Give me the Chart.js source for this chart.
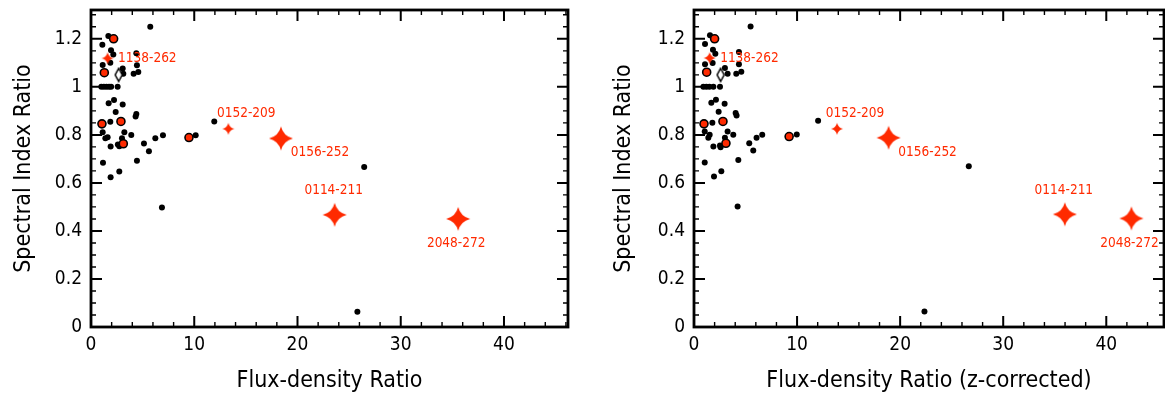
<!DOCTYPE html>
<html>
<head>
<title>Spectral Index Ratio vs Flux-density Ratio</title>
<script src="https://cdn.jsdelivr.net/npm/chart.js"></script>
<style>
  body { margin: 0; background: #fff; }
  .panel { position: absolute; top: 0; }
</style>
</head>
<body>
<div class="panel" style="left:0px"><canvas id="leftChart" width="580" height="397"></canvas></div>
<div class="panel" style="left:600px"><canvas id="rightChart" width="565" height="397"></canvas></div>

<script>
// tick labels
const xTicks = [0, 10, 20, 30, 40];
const yTicks = [0, 0.2, 0.4, 0.6, 0.8, 1, 1.2];

// named sources (red stars)
const starNames = ['1138-262', '0152-209', '0156-252', '0114-211', '2048-272'];
const starBig = [false, false, true, true, true];

// left panel: observed flux-density ratio
const leftStarX = [1.61, 13.3, 18.4, 23.6, 35.56];
const leftStarY = [1.119, 0.825, 0.785, 0.467, 0.45];
const leftRedX = [2.19, 1.29, 2.90, 1.06, 3.13, 9.49];
const leftRedY = [1.20, 1.059, 0.856, 0.846, 0.763, 0.789];
const leftDiamondX = [2.68];
const leftDiamondY = [1.05];
const leftDotX = [5.74, 1.68, 1.10, 1.94, 2.16, 1.87, 1.13, 4.39, 4.45, 4.58, 4.13, 3.07, 3.13,
  1.0, 1.25, 1.5, 1.75, 1.95, 2.58, 2.23, 1.71, 3.07, 2.39, 4.39, 4.32, 1.87, 11.94,
  1.13, 1.61, 1.39, 3.23, 3.0, 3.90, 2.74, 2.6, 1.90, 5.13, 5.61, 6.23, 6.97, 10.14,
  4.45, 1.16, 2.74, 1.90, 6.87, 26.46, 25.8];
const leftDotY = [1.250, 1.212, 1.175, 1.152, 1.135, 1.10, 1.091, 1.14, 1.09, 1.062, 1.055, 1.076, 1.055,
  1.0, 1.0, 1.0, 1.0, 1.0, 1.0, 0.945, 0.932, 0.927, 0.895, 0.887, 0.877, 0.855, 0.856,
  0.811, 0.79, 0.786, 0.811, 0.786, 0.80, 0.753, 0.76, 0.752, 0.764, 0.732, 0.786, 0.798, 0.798,
  0.692, 0.684, 0.647, 0.624, 0.498, 0.666, 0.063];

// right panel: z-corrected flux-density ratio
const rightStarX = [1.52, 13.88, 18.88, 35.98, 42.44];
const rightStarY = [1.12, 0.825, 0.788, 0.469, 0.452];
const rightRedX = [2.0, 1.23, 2.81, 0.97, 3.1, 9.23];
const rightRedY = [1.20, 1.061, 0.856, 0.846, 0.765, 0.793];
const rightDiamondX = [2.58];
const rightDiamondY = [1.05];
const rightDotX = [5.49, 1.55, 1.07, 1.84, 2.07, 4.36, 4.36, 1.07, 1.81, 3.0, 3.26, 4.1, 4.59,
  0.91, 1.2, 1.5, 1.88, 2.52, 2.13, 1.68, 2.97, 2.39, 4.04, 4.13, 1.78, 12.04,
  1.04, 1.52, 1.39, 3.26, 3.81, 3.0, 1.88, 2.52, 2.58, 5.36, 5.75, 6.07, 6.62, 9.97,
  4.3, 1.04, 2.65, 1.94, 4.23, 26.66, 22.36];
const rightDotY = [1.251, 1.215, 1.178, 1.155, 1.138, 1.145, 1.094, 1.094, 1.099, 1.079, 1.055, 1.055, 1.063,
  1.0, 1.0, 1.0, 1.0, 1.0, 0.946, 0.934, 0.93, 0.896, 0.891, 0.881, 0.85, 0.859,
  0.814, 0.801, 0.788, 0.814, 0.801, 0.788, 0.752, 0.756, 0.749, 0.765, 0.735, 0.788, 0.801, 0.802,
  0.695, 0.685, 0.649, 0.627, 0.502, 0.669, 0.065];

const RED = '#ff2a00';
const FONT = "'DejaVu Sans Condensed', 'DejaVu Sans', sans-serif";

// label offsets in pixels from the star centre
const labelOffsets = [[10.5, 0, 'left'], [18, -15.6, 'center'], [39, 14.5, 'center'], [-1, -24, 'center'], [-2, 24.8, 'center']];

function toPoints(xs, ys) {
    return xs.map((x, i) => ({ x: x, y: ys[i] }));
}

// 4 pointed concave star
function makeStar(r) {
    const c = document.createElement('canvas');
    c.width = c.height = 2 * r + 2;
    const g = c.getContext('2d');
    const m = r + 1, k = r * 0.2;
    g.fillStyle = RED;
    g.beginPath();
    g.moveTo(m, m - r);
    g.quadraticCurveTo(m + k, m - k, m + r, m);
    g.quadraticCurveTo(m + k, m + k, m, m + r);
    g.quadraticCurveTo(m - k, m + k, m - r, m);
    g.quadraticCurveTo(m - k, m - k, m, m - r);
    g.fill();
    return c;
}

function makeDiamond(w, h) {
    const c = document.createElement('canvas');
    c.width = w + 3; c.height = h + 3;
    const g = c.getContext('2d');
    const cx = c.width / 2, cy = c.height / 2;
    g.fillStyle = '#fff';
    g.strokeStyle = '#000';
    g.lineWidth = 1.5;
    g.beginPath();
    g.moveTo(cx, cy - h / 2);
    g.lineTo(cx + w / 2, cy);
    g.lineTo(cx, cy + h / 2);
    g.lineTo(cx - w / 2, cy);
    g.closePath();
    g.fill();
    g.stroke();
    return c;
}

const bigStar = makeStar(12);
const smallStar = makeStar(6);
const diamond = makeDiamond(7, 13);

// frame with inward major/minor ticks on all four sides + star labels
const framePlugin = {
    id: 'frame',
    afterDatasetsDraw(chart) {
        const ctx = chart.ctx;
        const a = chart.chartArea;
        const xs = chart.scales.x, ys = chart.scales.y;
        ctx.save();
        ctx.strokeStyle = '#000';
        ctx.lineCap = 'butt';

        function tick(px, len, width, horizontal) {
            ctx.lineWidth = width;
            ctx.beginPath();
            if (horizontal) {
                ctx.moveTo(px, a.bottom); ctx.lineTo(px, a.bottom - len);
                ctx.moveTo(px, a.top); ctx.lineTo(px, a.top + len);
            } else {
                ctx.moveTo(a.left, px); ctx.lineTo(a.left + len, px);
                ctx.moveTo(a.right, px); ctx.lineTo(a.right - len, px);
            }
            ctx.stroke();
        }
        for (let v = 0; v <= xs.max + 1e-9; v += 2) {
            const major = Math.abs(v % 10) < 1e-9;
            tick(xs.getPixelForValue(v), major ? 11 : 5, major ? 2 : 1.4, true);
        }
        for (let i = 0; i * 0.05 <= ys.max + 1e-9; i++) {
            const major = i % 4 === 0;
            tick(ys.getPixelForValue(i * 0.05), major ? 11 : 5, major ? 2 : 1.4, false);
        }
        ctx.lineWidth = 2.8;
        ctx.strokeRect(a.left, a.top, a.right - a.left, a.bottom - a.top);

        // star labels
        const sx = chart.options.starX, sy = chart.options.starY;
        ctx.fillStyle = RED;
        ctx.font = '13.5px ' + FONT;
        ctx.textBaseline = 'middle';
        starNames.forEach((name, i) => {
            const o = labelOffsets[i];
            ctx.textAlign = o[2];
            ctx.fillText(name, xs.getPixelForValue(sx[i]) + o[0], ys.getPixelForValue(sy[i]) + o[1]);
        });
        ctx.restore();
    }
};

function makeChart(id, xTitle, xMax, yAxisWidth, padRight, starX, starY, redX, redY, diaX, diaY, dotX, dotY) {
    const ctx = document.getElementById(id).getContext('2d');
    return new Chart(ctx, {
        type: 'scatter',
        data: {
            datasets: [
                {
                    data: toPoints(starX, starY),
                    pointStyle: starBig.map(b => b ? bigStar : smallStar),
                    pointRadius: 12
                },
                {
                    data: toPoints(redX, redY),
                    pointStyle: 'circle',
                    pointRadius: 4,
                    backgroundColor: RED,
                    borderColor: '#000',
                    borderWidth: 1.6
                },
                {
                    data: toPoints(diaX, diaY),
                    pointStyle: diamond,
                    pointRadius: 7
                },
                {
                    data: toPoints(dotX, dotY),
                    pointStyle: 'circle',
                    pointRadius: 3,
                    backgroundColor: '#000',
                    borderWidth: 0
                }
            ]
        },
        options: {
            responsive: false,
            animation: false,
            starX: starX,
            starY: starY,
            layout: { autoPadding: false, padding: { top: 10, right: padRight, left: 0, bottom: 0 } },
            plugins: {
                legend: { display: false },
                tooltip: { enabled: false }
            },
            scales: {
                x: {
                    type: 'linear',
                    min: 0,
                    max: xMax,
                    grid: { display: false, drawTicks: false },
                    border: { display: false },
                    afterBuildTicks: s => { s.ticks = xTicks.map(v => ({ value: v })); },
                    afterFit: s => { s.height = 70; s.paddingLeft = 0; s.paddingRight = 0; },
                    ticks: {
                        padding: 7,
                        color: '#000',
                        font: { family: FONT, size: 19 },
                        maxRotation: 0,
                        callback: v => String(v)
                    },
                    title: {
                        display: true,
                        text: xTitle,
                        color: '#000',
                        font: { family: FONT, size: 23 },
                        padding: { top: 0, bottom: 2 }
                    }
                },
                y: {
                    type: 'linear',
                    min: 0,
                    max: 1.32,
                    grid: { display: false, drawTicks: false },
                    border: { display: false },
                    afterBuildTicks: s => { s.ticks = yTicks.map(v => ({ value: v })); },
                    afterFit: s => { s.width = yAxisWidth; s.paddingTop = 0; s.paddingBottom = 0; },
                    ticks: {
                        padding: 9,
                        color: '#000',
                        font: { family: FONT, size: 19 },
                        callback: v => String(Math.round(v * 10) / 10)
                    },
                    title: {
                        display: true,
                        text: 'Spectral Index Ratio',
                        color: '#000',
                        font: { family: FONT, size: 23 },
                        padding: { top: 10, bottom: 0 }
                    }
                }
            }
        },
        plugins: [framePlugin]
    });
}

makeChart('leftChart', 'Flux-density Ratio', 46.2, 91, 12,
    leftStarX, leftStarY, leftRedX, leftRedY, leftDiamondX, leftDiamondY, leftDotX, leftDotY);
makeChart('rightChart', 'Flux-density Ratio (z-corrected)', 45.6, 94, 1,
    rightStarX, rightStarY, rightRedX, rightRedY, rightDiamondX, rightDiamondY, rightDotX, rightDotY);
</script>
</body>
</html>
